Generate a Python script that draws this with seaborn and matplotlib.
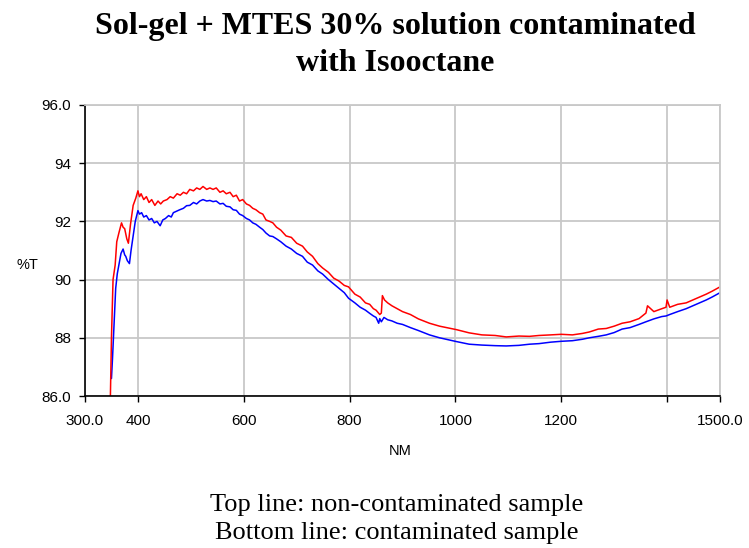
import matplotlib
matplotlib.use("Agg")
import matplotlib.pyplot as plt
import pandas as pd
import seaborn as sns

# Top line (non-contaminated sample)
red_nm = [348, 350, 353, 357, 360, 364, 369, 372, 375, 379,
          382, 386, 391, 396, 400, 403, 406, 411, 416, 421,
          426, 432, 438, 443, 448, 455, 461, 467, 474, 480,
          486, 492, 498, 505, 511, 517, 523, 530, 536, 542,
          548, 555, 561, 567, 574, 580, 586, 592, 598, 605,
          611, 617, 623, 630, 636, 642, 649, 655, 662, 670,
          680, 690, 700, 711, 720, 730, 740, 749, 760, 770,
          780, 790, 798, 810, 820, 830, 838, 845, 850, 857,
          860, 862, 866, 872, 880, 890, 900, 915, 930, 951,
          970, 1002, 1026, 1050, 1075, 1096, 1120, 1140, 1158, 1180,
          1200, 1221, 1240, 1253, 1270, 1285, 1300, 1315, 1330, 1347,
          1360, 1363, 1375, 1390, 1398, 1400, 1405, 1420, 1436, 1455,
          1474, 1485, 1495, 1500]
red_t = [86.0, 88.0, 90.0, 90.5, 91.3, 91.6, 91.95, 91.8, 91.75, 91.4,
         91.25, 91.9, 92.55, 92.8, 93.05, 92.85, 92.95, 92.75, 92.85, 92.65,
         92.75, 92.55, 92.7, 92.6, 92.7, 92.75, 92.85, 92.8, 92.95, 92.9,
         93.0, 92.95, 93.1, 93.05, 93.15, 93.1, 93.2, 93.1, 93.15, 93.1,
         93.15, 93.0, 93.05, 92.95, 93.0, 92.85, 92.9, 92.7, 92.75, 92.6,
         92.55, 92.45, 92.4, 92.3, 92.25, 92.05, 92.0, 91.95, 91.8, 91.7,
         91.5, 91.45, 91.25, 91.15, 90.95, 90.8, 90.55, 90.4, 90.25, 90.05,
         89.95, 89.8, 89.75, 89.5, 89.4, 89.2, 89.15, 89.0, 88.95, 88.8,
         88.85, 89.45, 89.3, 89.2, 89.1, 89.0, 88.9, 88.8, 88.65, 88.5,
         88.4, 88.28, 88.17, 88.1, 88.08, 88.03, 88.06, 88.05, 88.08, 88.1,
         88.12, 88.1, 88.15, 88.2, 88.3, 88.32, 88.4, 88.5, 88.55, 88.66,
         88.85, 89.1, 88.9, 89.0, 89.05, 89.3, 89.05, 89.15, 89.2, 89.35,
         89.5, 89.6, 89.7, 89.75]

# Bottom line (contaminated sample)
blue_nm = [350, 352, 355, 358, 361, 365, 368, 372, 375, 377,
           380, 384, 387, 391, 395, 400, 403, 407, 411, 416,
           421, 426, 431, 436, 442, 447, 452, 458, 463, 467,
           473, 479, 486, 492, 498, 505, 511, 517, 523, 530,
           536, 542, 548, 555, 561, 567, 574, 580, 586, 592,
           598, 605, 611, 617, 623, 630, 636, 642, 649, 655,
           662, 670, 680, 690, 700, 711, 720, 730, 740, 749,
           760, 770, 780, 790, 798, 810, 820, 830, 838, 845,
           850, 855, 857, 860, 865, 872, 880, 890, 900, 915,
           930, 951, 970, 1002, 1026, 1050, 1075, 1096, 1120, 1140,
           1158, 1180, 1200, 1221, 1240, 1253, 1270, 1285, 1300, 1315,
           1330, 1347, 1360, 1375, 1390, 1398, 1405, 1420, 1436, 1455,
           1474, 1485, 1495, 1500]
blue_t = [86.6, 87.3, 88.5, 89.7, 90.2, 90.6, 90.9, 91.05, 90.85, 90.8,
          90.65, 90.55, 91.0, 91.5, 92.0, 92.37, 92.25, 92.3, 92.15, 92.2,
          92.05, 92.1, 91.95, 92.0, 91.85, 92.05, 92.1, 92.2, 92.15, 92.3,
          92.35, 92.4, 92.45, 92.54, 92.55, 92.65, 92.6, 92.7, 92.75, 92.7,
          92.72, 92.68, 92.7, 92.6, 92.62, 92.52, 92.5, 92.4, 92.38, 92.25,
          92.2, 92.1, 92.05, 91.95, 91.9, 91.8, 91.72, 91.6, 91.5, 91.48,
          91.4, 91.3, 91.15, 91.05, 90.9, 90.8, 90.6, 90.5, 90.3, 90.19,
          90.0, 89.85, 89.7, 89.55, 89.36, 89.2, 89.05, 88.95, 88.84, 88.75,
          88.7, 88.5, 88.66, 88.55, 88.7, 88.62, 88.58, 88.5, 88.46, 88.35,
          88.25, 88.1, 88.0, 87.87, 87.78, 87.75, 87.73, 87.72, 87.74, 87.78,
          87.8, 87.85, 87.88, 87.9, 87.95, 88.0, 88.05, 88.1, 88.18, 88.3,
          88.35, 88.46, 88.55, 88.65, 88.73, 88.75, 88.8, 88.9, 89.0, 89.15,
          89.3, 89.4, 89.5, 89.55]

x_ticks = [300, 400, 600, 800, 1000, 1200, 1400, 1500]
x_labels = ["300.0", "400", "600", "800", "1000", "1200", "", "1500.0"]
y_ticks = [86, 88, 90, 92, 94, 96]
y_labels = ["86.0", "88", "90", "92", "94", "96.0"]

df_red = pd.DataFrame({"NM": red_nm, "T": red_t})
df_blue = pd.DataFrame({"NM": blue_nm, "T": blue_t})

sns.set_style("white")
plt.rcParams["font.family"] = ["Liberation Sans", "DejaVu Sans"]
plt.rcParams["text.color"] = "black"
plt.rcParams["axes.labelcolor"] = "black"

fig = plt.figure(figsize=(7.49, 5.48), dpi=100)
ax = fig.add_axes([85 / 749, 1 - 396 / 548, 635 / 749, 291 / 548])

sns.lineplot(data=df_blue, x="NM", y="T", ax=ax, color="#0000ff",
             linewidth=1.1, sort=False, estimator=None)
sns.lineplot(data=df_red, x="NM", y="T", ax=ax, color="#ff0000",
             linewidth=1.1, sort=False, estimator=None)

ax.set_xlim(300, 1500)
ax.set_ylim(86, 96)
ax.set_xticks(x_ticks)
ax.set_xticklabels(x_labels)
ax.set_yticks(y_ticks)
ax.set_yticklabels(y_labels)
ax.grid(True, color="#c8c8c8", linewidth=1.3)
ax.set_axisbelow(True)

for side in ["left", "bottom"]:
    ax.spines[side].set_color("black")
    ax.spines[side].set_linewidth(1.2)
for side in ["top", "right"]:
    ax.spines[side].set_color("#c8c8c8")
    ax.spines[side].set_linewidth(1.3)

ax.tick_params(axis="x", direction="out", length=4, width=1, pad=9,
               labelsize=11, bottom=True, colors="black")
ax.tick_params(axis="y", direction="out", length=4, width=1, pad=6,
               labelsize=11, left=True, colors="black")

ax.set_xlabel("NM", fontsize=10.5)
ax.xaxis.set_label_coords(315 / 635, -48 / 291)
ax.set_ylabel("%T", fontsize=10.5, rotation=0, ha="center", va="center")
ax.yaxis.set_label_coords(-58 / 635, 131 / 291)

fig.text(395 / 749, 1 - 45 / 548,
         "Sol-gel + MTES 30% solution contaminated\nwith Isooctane",
         ha="center", va="center", fontsize=23, fontweight="bold",
         color="black", family=["Liberation Serif", "DejaVu Serif"],
         linespacing=1.32)
fig.text(397 / 749, 1 - 519 / 548,
         "Top line: non-contaminated sample\nBottom line: contaminated sample",
         ha="center", va="center", fontsize=19, color="black",
         family=["Liberation Serif", "DejaVu Serif"], linespacing=1.3)

fig.savefig("out.png", dpi=100)
